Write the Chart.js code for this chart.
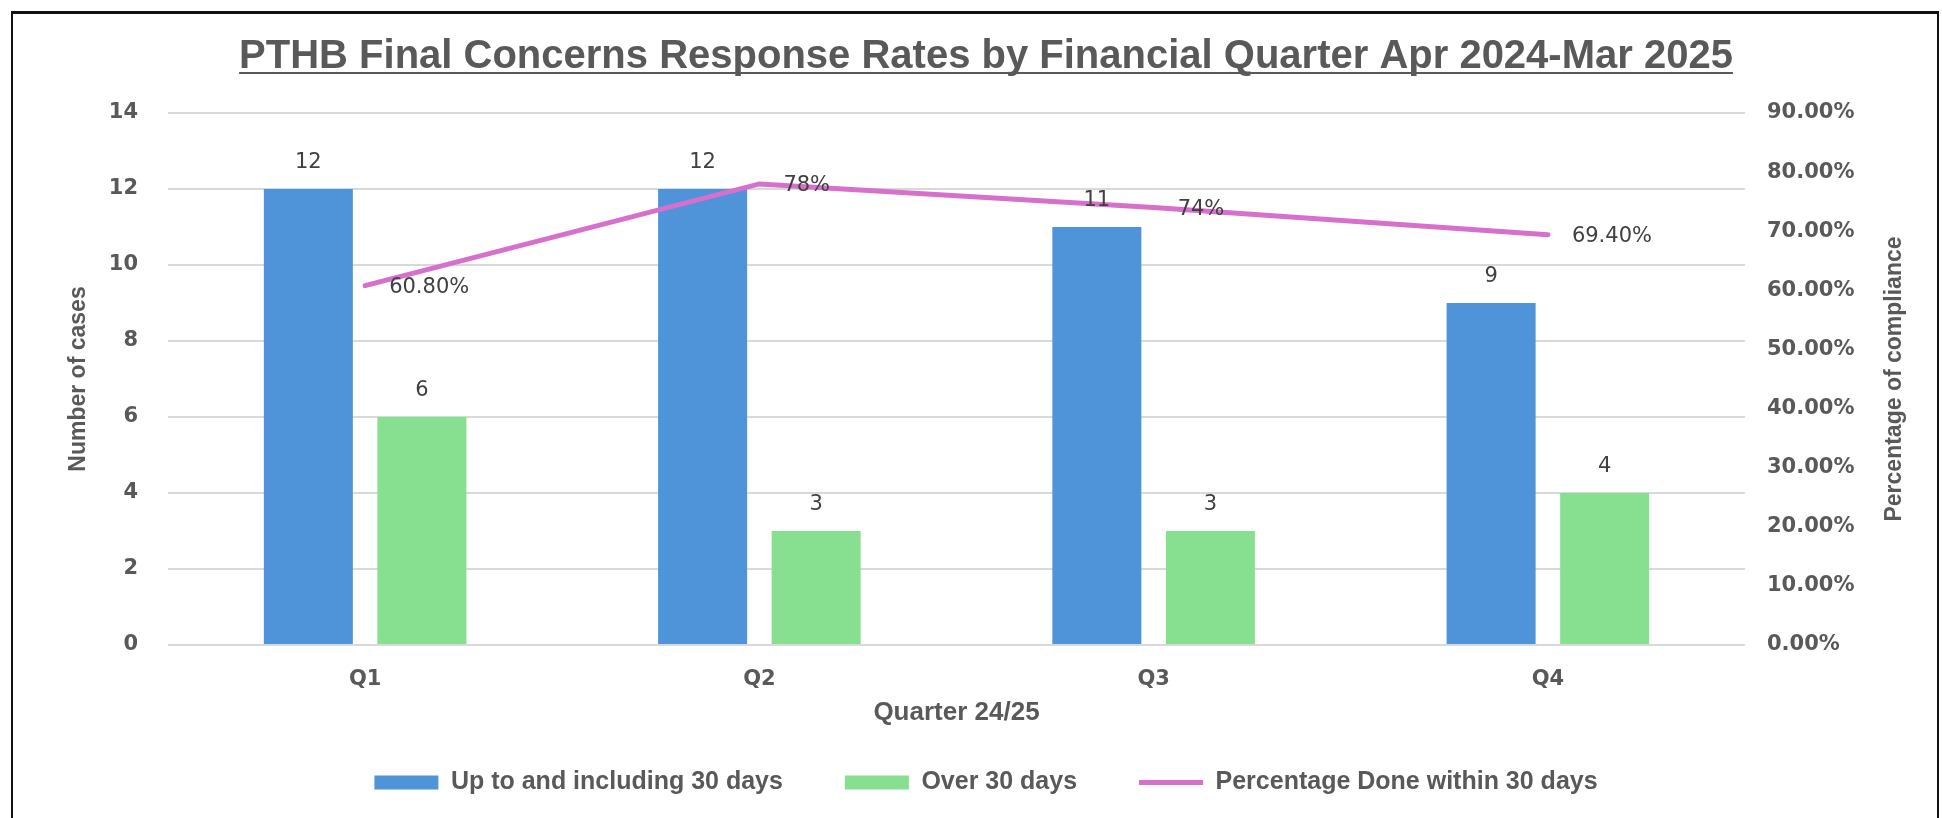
<!DOCTYPE html>
<html>
<head>
<meta charset="utf-8">
<script src="https://cdn.jsdelivr.net/npm/chart.js@4.4.1/dist/chart.umd.min.js"></script>
<style>
    body { margin: 0; background: #fff; }
    #wrap { position: relative; width: 1942px; height: 818px; overflow: hidden; }
    #frame {
        position: absolute; left: 11px; top: 11px; width: 1924px; height: 900px;
        border-top: 3px solid #111; border-left: 2px solid #111; border-right: 2px solid #111;
        pointer-events: none;
    }
</style>
</head>
<body>
<div id="wrap">
    <canvas id="chart" width="1942" height="818"></canvas>
    <div id="frame"></div>
</div>
<script>
const quarters = ["Q1", "Q2", "Q3", "Q4"];
const upTo30 = [12, 12, 11, 9];
const over30 = [6, 3, 3, 4];
const pctWithin30 = [60.8, 78, 74, 69.4];
const pctLabels = ["60.80%", "78%", "74%", "69.40%"];

const grey = "#595959";
const titleFont = "bold 40px 'Liberation Sans'";

// value labels above bars and beside the line
const valueLabels = {
    id: "valueLabels",
    afterDatasetsDraw(chart) {
        const ctx = chart.ctx;
        ctx.save();
        ctx.font = "21px 'DejaVu Sans'";
        ctx.fillStyle = "#404040";
        ctx.textBaseline = "middle";
        chart.data.datasets.forEach((ds, i) => {
            const meta = chart.getDatasetMeta(i);
            meta.data.forEach((el, j) => {
                if (ds.type === "line") {
                    ctx.textAlign = "left";
                    ctx.fillText(pctLabels[j], el.x + 24, el.y + 2);
                } else {
                    ctx.textAlign = "center";
                    ctx.fillText(ds.data[j], el.x, el.y - 26);
                }
            });
        });
        ctx.restore();
    }
};

// underline under the title + right axis title reading upwards
const extras = {
    id: "extras",
    afterDraw(chart) {
        const ctx = chart.ctx;
        const t = chart.titleBlock;
        ctx.save();
        ctx.font = titleFont;
        const w = ctx.measureText(t.options.text).width;
        const cx = (t.left + t.right) / 2;
        ctx.strokeStyle = grey;
        ctx.lineWidth = 2;
        ctx.beginPath();
        ctx.moveTo(cx - w / 2, 73);
        ctx.lineTo(cx + w / 2, 73);
        ctx.stroke();

        const area = chart.chartArea;
        ctx.translate(1895, (area.top + area.bottom) / 2);
        ctx.rotate(-Math.PI / 2);
        ctx.font = "bold 23px 'Liberation Sans'";
        ctx.fillStyle = grey;
        ctx.textAlign = "center";
        ctx.textBaseline = "middle";
        ctx.fillText("Percentage of compliance", 0, 0);
        ctx.restore();
    }
};

new Chart(document.getElementById("chart").getContext("2d"), {
    type: "bar",
    data: {
        labels: quarters,
        datasets: [{
            label: "Up to and including 30 days",
            data: upTo30,
            backgroundColor: "#4f94d8",
            pointStyle: "rect",
            yAxisID: "y",
            order: 1
        }, {
            label: "Over 30 days",
            data: over30,
            backgroundColor: "#86e08f",
            pointStyle: "rect",
            yAxisID: "y",
            order: 1
        }, {
            type: "line",
            label: "Percentage Done within 30 days",
            data: pctWithin30,
            borderColor: "#d76fcd",
            backgroundColor: "#d76fcd",
            borderWidth: 5,
            borderCapStyle: "round",
            pointRadius: 0,
            pointStyle: "line",
            tension: 0,
            yAxisID: "y1",
            order: 0
        }]
    },
    options: {
        responsive: false,
        animation: false,
        devicePixelRatio: 1,
        categoryPercentage: 0.576,
        barPercentage: 0.784,
        layout: {
            padding: { left: 60, right: 30, top: 12, bottom: 13 }
        },
        plugins: {
            title: {
                display: true,
                text: "PTHB Final Concerns Response Rates by Financial Quarter Apr 2024-Mar 2025",
                color: grey,
                font: { family: "'Liberation Sans'", size: 40, weight: "bold" },
                padding: { top: 21, bottom: 32 }
            },
            legend: {
                position: "bottom",
                labels: {
                    usePointStyle: true,
                    pointStyleWidth: 64,
                    boxHeight: 14,
                    padding: 62,
                    color: grey,
                    font: { family: "'Liberation Sans'", size: 25, weight: "bold" },
                    sort: (a, b) => a.datasetIndex - b.datasetIndex
                }
            },
            tooltip: { enabled: false }
        },
        scales: {
            x: {
                grid: { display: false },
                border: { display: false },
                ticks: {
                    color: grey,
                    padding: 14,
                    font: { family: "'DejaVu Sans'", size: 21, weight: "bold" }
                },
                title: {
                    display: true,
                    text: "Quarter 24/25",
                    color: grey,
                    font: { family: "'Liberation Sans'", size: 26, weight: "bold" },
                    padding: { top: 0, bottom: -20 }
                },
                afterFit: (s) => { s.height = 63; }
            },
            y: {
                position: "left",
                min: 0,
                max: 14,
                ticks: {
                    stepSize: 2,
                    color: grey,
                    padding: 30,
                    font: { family: "'DejaVu Sans'", size: 21, weight: "bold" }
                },
                grid: { color: "#d9d9d9", lineWidth: 2, drawTicks: false },
                border: { display: false },
                title: {
                    display: true,
                    text: "Number of cases",
                    color: grey,
                    font: { family: "'Liberation Sans'", size: 23, weight: "bold" },
                    padding: { top: 5, bottom: 0 }
                },
                afterFit: (s) => { s.width = 108; }
            },
            y1: {
                position: "right",
                min: 0,
                max: 90,
                ticks: {
                    stepSize: 10,
                    color: grey,
                    padding: 22,
                    font: { family: "'DejaVu Sans'", size: 21, weight: "bold" },
                    callback: (v) => v.toFixed(2) + "%"
                },
                grid: { display: false, drawTicks: false },
                border: { display: false },
                afterFit: (s) => { s.width = 167; }
            }
        }
    },
    plugins: [valueLabels, extras]
});
</script>
</body>
</html>
